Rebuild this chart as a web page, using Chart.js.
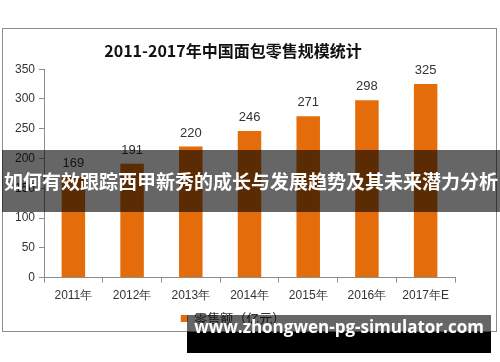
<!DOCTYPE html>
<html>
<head>
<meta charset="utf-8">
<script src="https://cdn.jsdelivr.net/npm/chart.js@4"></script>
<style>
  body { margin: 0; background: #fff; width: 500px; height: 362px; position: relative; overflow: hidden; }
  #frame { position: absolute; left: 2px; top: 28px; width: 493px; height: 302px; border: 1px solid #8c8c8c; background: #fff; }
  #frame canvas { position: absolute; left: 0; top: 0; }
  .band { position: absolute; left: 2px; top: 150px; width: 498px; height: 62px; background: rgba(0,0,0,0.6);
          color: #fff; font: bold 19px "Noto Sans CJK SC", sans-serif; line-height: 62px; text-align: center; white-space: nowrap; }
  .site-top { position: absolute; left: 187px; top: 315px; width: 304px; height: 17px; background: rgba(0,0,0,0.6); }
  .site { position: absolute; left: 187px; top: 332px; width: 304px; height: 21px; background: #000; }
  .site-text { position: absolute; left: 187px; top: 315px; width: 304px; height: 38px; line-height: 46px;
               color: #fff; font: bold 17px "Open Sans", sans-serif; text-align: center; white-space: nowrap; }
</style>
</head>
<body>
<div id="frame"><canvas id="myChart" width="493" height="306"></canvas></div>
<div class="band">如何有效跟踪西甲新秀的成长与发展趋势及其未来潜力分析</div>
<div class="site-top"></div>
<div class="site"></div>
<div class="site-text">www.zhongwen-pg-simulator.com</div>

<script>
// chart data
const years = ['2011年', '2012年', '2013年', '2014年', '2015年', '2016年', '2017年E'];
const retailSales = [169, 191, 220, 246, 271, 298, 325];
const seriesName = '零售额（亿元）';
const chartTitle = '2011-2017年中国面包零售规模统计';

// draws the number above each bar
const valueLabels = {
    id: 'valueLabels',
    afterDatasetsDraw(chart) {
        const ctx = chart.ctx;
        const meta = chart.getDatasetMeta(0);
        ctx.save();
        ctx.font = '13px "Liberation Sans", sans-serif';
        ctx.fillStyle = '#333';
        ctx.textAlign = 'center';
        ctx.textBaseline = 'bottom';
        meta.data.forEach((bar, i) => {
            ctx.fillText(chart.data.datasets[0].data[i], bar.x, bar.y - 7);
        });
        ctx.restore();
    }
};

const ctx = document.getElementById('myChart').getContext('2d');
new Chart(ctx, {
    type: 'bar',
    data: {
        labels: years,
        datasets: [{
            label: seriesName,
            data: retailSales,
            backgroundColor: '#e46c0a',
            barPercentage: 0.4,
            categoryPercentage: 1
        }]
    },
    options: {
        responsive: false,
        animation: false,
        layout: { padding: { left: 8, right: 41, top: 8, bottom: 0 } },
        plugins: {
            title: {
                display: true,
                text: chartTitle,
                color: '#111',
                font: { family: '"Noto Sans CJK SC"', size: 16, weight: 'bold' },
                padding: { top: 4, bottom: 9 }
            },
            legend: {
                position: 'bottom',
                labels: {
                    boxWidth: 7,
                    boxHeight: 7,
                    color: '#333',
                    font: { family: '"Noto Sans CJK SC"', size: 13 },
                    padding: 3
                }
            },
            tooltip: { enabled: false }
        },
        scales: {
            x: {
                grid: { drawOnChartArea: false, offset: true, tickLength: 5, color: '#8c8c8c' },
                border: { color: '#8c8c8c' },
                ticks: { color: '#333', font: { family: '"Liberation Sans"', size: 12 }, maxRotation: 0, padding: 6 }
            },
            y: {
                min: 0,
                max: 350,
                grid: { drawOnChartArea: false, tickLength: 5, color: '#8c8c8c' },
                border: { color: '#8c8c8c' },
                ticks: { stepSize: 50, color: '#333', font: { family: '"Liberation Sans"', size: 12 }, padding: 4 }
            }
        }
    },
    plugins: [valueLabels]
});
</script>
</body>
</html>
